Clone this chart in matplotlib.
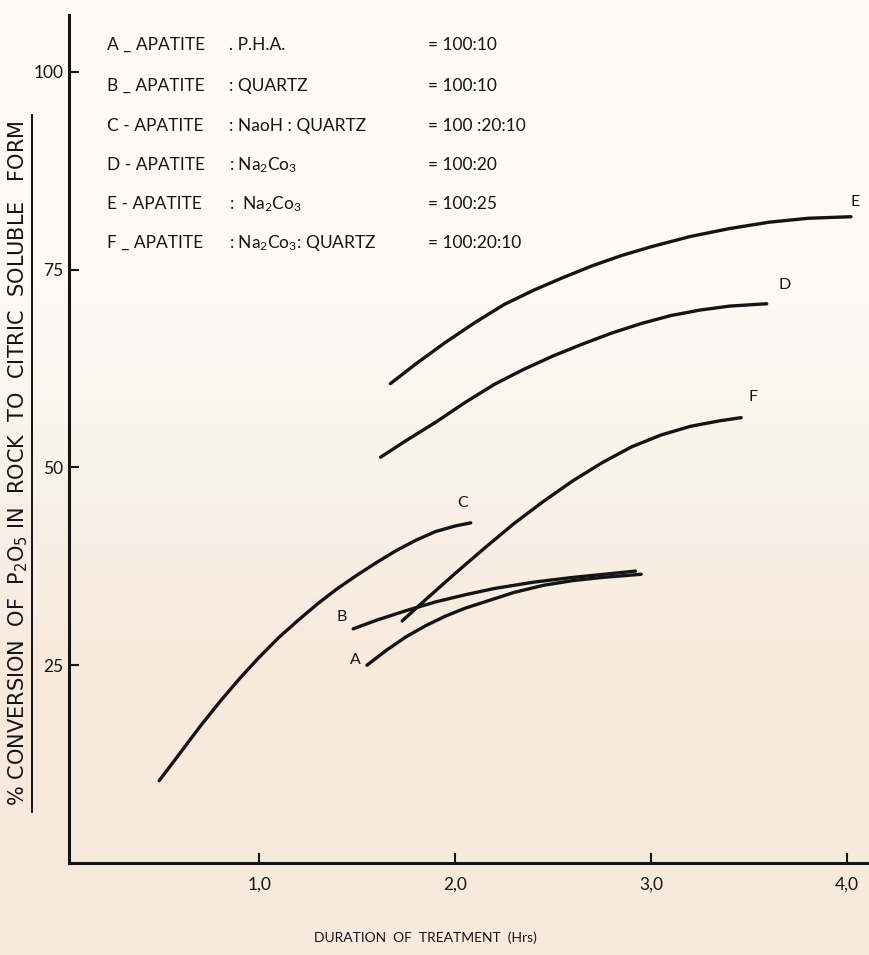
import matplotlib
matplotlib.use("Agg")
import numpy as np
import matplotlib.pyplot as plt
from matplotlib.lines import Line2D

plt.rcParams['font.family'] = ['Lato', 'DejaVu Sans']
plt.rcParams['mathtext.default'] = 'regular'

# ---------------- data ----------------
A_x = [1.55, 1.65, 1.75, 1.85, 1.95, 2.05, 2.15, 2.30, 2.45, 2.60, 2.75, 2.95]
A_y = [25.0, 26.9, 28.6, 30.0, 31.2, 32.2, 33.0, 34.2, 35.1, 35.7, 36.1, 36.5]

B_x = [1.48, 1.60, 1.75, 1.90, 2.05, 2.20, 2.40, 2.60, 2.80, 2.92]
B_y = [29.6, 30.7, 31.9, 33.0, 33.9, 34.7, 35.5, 36.1, 36.6, 36.9]

C_x = [0.49, 0.60, 0.70, 0.80, 0.90, 1.00, 1.10, 1.20, 1.30, 1.40, 1.50,
       1.60, 1.70, 1.80, 1.90, 2.00, 2.08]
C_y = [10.4, 14.0, 17.3, 20.4, 23.3, 26.0, 28.5, 30.7, 32.8, 34.7, 36.4,
       38.0, 39.5, 40.8, 41.9, 42.6, 43.0]

D_x = [1.62, 1.75, 1.90, 2.05, 2.20, 2.35, 2.50, 2.65, 2.80, 2.95, 3.10,
       3.25, 3.40, 3.59]
D_y = [51.3, 53.4, 55.7, 58.2, 60.5, 62.4, 64.1, 65.6, 67.0, 68.2, 69.2,
       69.9, 70.4, 70.7]

E_x = [1.67, 1.80, 1.95, 2.10, 2.25, 2.40, 2.55, 2.70, 2.85, 3.00, 3.20,
       3.40, 3.60, 3.80, 4.02]
E_y = [60.6, 63.1, 65.8, 68.3, 70.6, 72.4, 74.0, 75.5, 76.8, 77.9, 79.2,
       80.2, 81.0, 81.5, 81.7]

F_x = [1.73, 1.85, 2.00, 2.15, 2.30, 2.45, 2.60, 2.75, 2.90, 3.05, 3.20,
       3.35, 3.46]
F_y = [30.6, 33.3, 36.6, 39.8, 42.9, 45.7, 48.3, 50.6, 52.6, 54.1, 55.2,
       55.9, 56.3]

curve_labels = ['A', 'B', 'C', 'D', 'E', 'F']
label_x = [1.49, 1.42, 2.04, 3.68, 4.04, 3.52]
label_y = [25.7, 31.1, 45.5, 73.1, 83.6, 58.9]

y_ticks = [25, 50, 75, 100]
y_ticklabels = ['25', '50', '75', '100']
x_ticks = [1.0, 2.0, 3.0, 4.0]
x_ticklabels = ['1,0', '2,0', '3,0', '4,0']

legend_key = ['A _ APATITE', 'B _ APATITE', 'C - APATITE', 'D - APATITE',
              'E - APATITE', 'F _ APATITE']
legend_mix = ['. P.H.A.', ': QUARTZ', ': NaoH : QUARTZ', ': Na$_2$Co$_3$',
              ':  Na$_2$Co$_3$', ': Na$_2$Co$_3$: QUARTZ']
legend_ratio = ['= 100:10', '= 100:10', '= 100 :20:10', '= 100:20',
                '= 100:25', '= 100:20:10']

x_title = 'DURATION  OF  TREATMENT  (Hrs)'
y_title = '% CONVERSION  OF  P$_2$O$_5$ IN  ROCK  TO  CITRIC  SOLUBLE   FORM'

# ---------------- figure ----------------
W, H = 869, 955
fig = plt.figure(figsize=(W / 100, H / 100), dpi=100, facecolor='#f8f1e7')


def fx(px):
    return px / W


def fy(py):
    return 1 - py / H


# paper tone: whiter at the top, more beige lower down
bg = fig.add_axes([0, 0, 1, 1], zorder=-10)
top_c = np.array([0xfc, 0xfa, 0xf5]) / 255
bot_c = np.array([0xf6, 0xea, 0xdc]) / 255
t = np.clip((np.linspace(0, 1, 256) - 0.3) / 0.4, 0, 1)[:, None]
grad = top_c[None, :] * (1 - t) + bot_c[None, :] * t
bg.imshow(grad[:, None, :], aspect='auto', extent=[0, 1, 0, 1], origin='upper')
bg.set_axis_off()

ax_left, ax_right, ax_top, ax_bottom = 69, 869, 15, 863
ax = fig.add_axes([fx(ax_left), fy(ax_bottom), fx(ax_right) - fx(ax_left),
                   fy(ax_top) - fy(ax_bottom)])
ax.set_facecolor('none')
ax.set_xlim(0.03, 4.112)
ax.set_ylim(0, 107.2)

ink = '#161412'
for xs, ys in [(A_x, A_y), (B_x, B_y), (C_x, C_y), (D_x, D_y), (E_x, E_y), (F_x, F_y)]:
    ax.plot(xs, ys, color=ink, lw=2.4, solid_capstyle='round', solid_joinstyle='round')

for tx, lx, ly in zip(curve_labels, label_x, label_y):
    ax.text(lx, ly, tx, fontsize=11.5, color=ink, ha='center', va='center')

for s in ['top', 'right']:
    ax.spines[s].set_visible(False)
for s in ['left', 'bottom']:
    ax.spines[s].set_linewidth(2.2)
    ax.spines[s].set_color(ink)

ax.set_yticks(y_ticks)
ax.set_yticklabels(y_ticklabels)
ax.set_xticks(x_ticks)
ax.set_xticklabels(x_ticklabels)
ax.tick_params(axis='both', direction='in', length=7, width=1.5, color=ink,
               labelsize=12.5, labelcolor=ink)
ax.tick_params(axis='y', pad=4)
ax.tick_params(axis='x', pad=10)

# legend block
row_y = [45, 86, 126, 165, 204, 243]
for k, m, r, py in zip(legend_key, legend_mix, legend_ratio, row_y):
    fig.text(fx(107), fy(py), k, fontsize=12.5, color=ink, va='center', ha='left')
    fig.text(fx(229), fy(py), m, fontsize=12.5, color=ink, va='center', ha='left')
    fig.text(fx(428), fy(py), r, fontsize=12.5, color=ink, va='center', ha='left')

# axis titles
fig.text(fx(425), fy(938), x_title, fontsize=10, color=ink, ha='center', va='center')
fig.text(fx(18), fy(463), y_title, fontsize=15, color=ink, ha='center', va='center',
         rotation=90, family=['DejaVu Sans'])
fig.add_artist(Line2D([fx(32), fx(32)], [fy(812), fy(115)], color=ink, lw=1.4))

fig.savefig('out.png', dpi=100, facecolor=fig.get_facecolor())
